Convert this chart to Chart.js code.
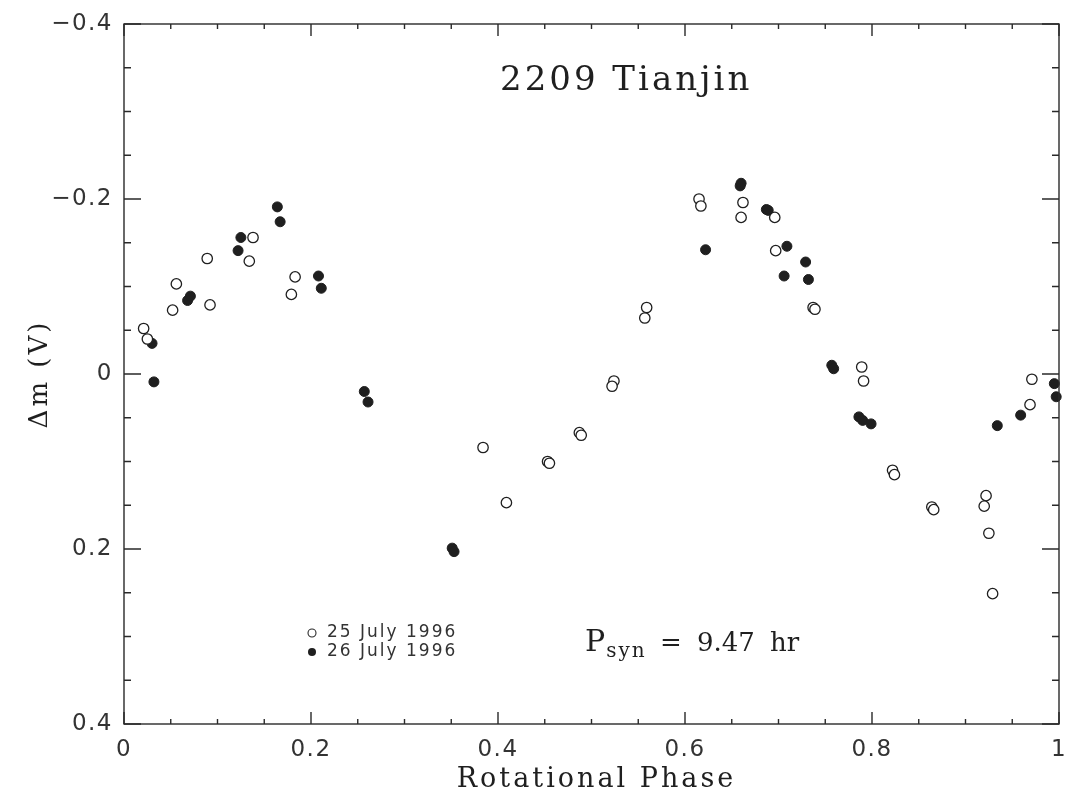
<!DOCTYPE html>
<html>
<head>
<meta charset="utf-8">
<script src="https://cdn.jsdelivr.net/npm/chart.js@4.4.0/dist/chart.umd.min.js"></script>
<style>
    html, body { margin: 0; padding: 0; background: #fff; }
    canvas { display: block; }
</style>
</head>
<body>
<canvas id="lightcurve" width="1066" height="797"></canvas>
<script>
// 25 July 1996 (open circles)
const phase25 = [0.021, 0.025, 0.052, 0.056, 0.089, 0.092, 0.134, 0.138, 0.179, 0.183,
                 0.384, 0.409, 0.453, 0.455, 0.487, 0.489, 0.524, 0.522, 0.559, 0.557,
                 0.615, 0.617, 0.662, 0.660, 0.696, 0.697, 0.737, 0.739, 0.789, 0.791,
                 0.822, 0.824, 0.864, 0.866, 0.922, 0.920, 0.925, 0.929, 0.969, 0.971];
const dm25 = [-0.052, -0.040, -0.073, -0.103, -0.132, -0.079, -0.129, -0.156, -0.091, -0.111,
              0.084, 0.147, 0.100, 0.102, 0.067, 0.070, 0.008, 0.014, -0.076, -0.064,
              -0.200, -0.192, -0.196, -0.179, -0.179, -0.141, -0.076, -0.074, -0.008, 0.008,
              0.110, 0.115, 0.152, 0.155, 0.139, 0.151, 0.182, 0.251, 0.035, 0.006];

// 26 July 1996 (filled circles)
const phase26 = [0.030, 0.032, 0.068, 0.071, 0.122, 0.125, 0.164, 0.167, 0.208, 0.211,
                 0.257, 0.261, 0.351, 0.353, 0.622, 0.659, 0.660, 0.687, 0.689, 0.709,
                 0.706, 0.729, 0.732, 0.757, 0.759, 0.786, 0.790, 0.799, 0.934, 0.959,
                 0.995, 0.997];
const dm26 = [-0.035, 0.009, -0.084, -0.089, -0.141, -0.156, -0.191, -0.174, -0.112, -0.098,
              0.020, 0.032, 0.199, 0.203, -0.142, -0.215, -0.218, -0.188, -0.187, -0.146,
              -0.112, -0.128, -0.108, -0.010, -0.006, 0.049, 0.053, 0.057, 0.059, 0.047,
              0.011, 0.026];

const xTicks = [0, 0.2, 0.4, 0.6, 0.8, 1];
const yTicks = [-0.4, -0.2, 0, 0.2, 0.4];
const legendLabels = ['25 July 1996', '26 July 1996'];
const titleText = '2209 Tianjin';
const xTitle = 'Rotational Phase';
const yTitle = '\u0394m (V)';

const ink = '#1f1f1f';
const labelInk = '#333';

function fmtTick(v) {
    if (Math.abs(v) < 1e-9) return '0';
    if (Math.abs(v - 1) < 1e-9) return '1';
    const s = Math.abs(v).toFixed(1);
    return v < 0 ? '\u2212' + s : s;
}

// the old plotting package spaced its letters a bit wide
const wideText = {
    id: 'wideText',
    beforeDraw(chart) {
        chart.ctx.letterSpacing = '1.5px';
    }
};

// box with inward ticks, axis titles and in-plot annotations
const frameAndNotes = {
    id: 'frameAndNotes',
    afterDatasetsDraw(chart) {
        const { ctx, chartArea: a, scales: { x, y } } = chart;
        ctx.save();
        ctx.strokeStyle = '#2a2a2a';
        ctx.lineWidth = 1.4;
        ctx.strokeRect(a.left, a.top, a.right - a.left, a.bottom - a.top);

        ctx.beginPath();
        for (let i = 0; i <= 20; i++) {
            const px = x.getPixelForValue(i * 0.05);
            const len = i % 4 === 0 ? 12 : 5;
            ctx.moveTo(px, a.bottom); ctx.lineTo(px, a.bottom - len);
            ctx.moveTo(px, a.top); ctx.lineTo(px, a.top + len);
        }
        for (let i = 0; i <= 16; i++) {
            const py = y.getPixelForValue(-0.4 + i * 0.05);
            const len = i % 4 === 0 ? 17 : 7;
            ctx.moveTo(a.left, py); ctx.lineTo(a.left + len, py);
            ctx.moveTo(a.right, py); ctx.lineTo(a.right - len, py);
        }
        ctx.stroke();

        // axis titles
        ctx.fillStyle = ink;
        ctx.letterSpacing = '3px';
        ctx.font = '27px "DejaVu Serif"';
        ctx.textAlign = 'center';
        ctx.textBaseline = 'alphabetic';
        ctx.fillText(xTitle, (a.left + a.right) / 2 + 5, 787);
        ctx.save();
        ctx.translate(47, (a.top + a.bottom) / 2);
        ctx.rotate(-Math.PI / 2);
        ctx.font = '26px "DejaVu Serif"';
        ctx.fillText(yTitle, 0, 0);
        ctx.restore();

        // title inside the frame
        ctx.textAlign = 'left';
        ctx.font = '34px "DejaVu Serif"';
        ctx.fillText(titleText, a.left + 376, a.top + 66);

        // legend, lower left
        const lx = a.left + 188;
        const rows = [a.top + 609, a.top + 628];
        ctx.lineWidth = 1.1;
        ctx.beginPath();
        ctx.arc(lx, rows[0], 4, 0, Math.PI * 2);
        ctx.fillStyle = '#fff';
        ctx.fill();
        ctx.stroke();
        ctx.beginPath();
        ctx.arc(lx, rows[1], 4, 0, Math.PI * 2);
        ctx.fillStyle = ink;
        ctx.fill();
        ctx.fillStyle = labelInk;
        ctx.letterSpacing = '2px';
        ctx.font = '17px "DejaVu Sans"';
        ctx.textBaseline = 'middle';
        ctx.fillText(legendLabels[0], lx + 15, rows[0]);
        ctx.fillText(legendLabels[1], lx + 15, rows[1]);

        // synodic period
        ctx.fillStyle = ink;
        ctx.textBaseline = 'alphabetic';
        const bx = a.left + 461;
        const by = a.top + 627;
        ctx.letterSpacing = '0px';
        ctx.font = '30px "DejaVu Serif"';
        ctx.fillText('P', bx, by);
        const pw = ctx.measureText('P').width;
        ctx.letterSpacing = '2px';
        ctx.font = '20px "DejaVu Serif"';
        ctx.fillText('syn', bx + pw + 1, by + 6);
        ctx.letterSpacing = '0px';
        ctx.font = '26px "DejaVu Serif"';
        ctx.fillText('=', a.left + 536, by);
        ctx.fillText('9.47', a.left + 573, by);
        ctx.fillText('hr', a.left + 646, by);
        ctx.restore();
    }
};

const ctx = document.getElementById('lightcurve').getContext('2d');
new Chart(ctx, {
    type: 'scatter',
    data: {
        datasets: [
            {
                label: legendLabels[0],
                data: phase25.map((p, i) => ({ x: p, y: dm25[i] })),
                pointRadius: 5.2,
                pointBackgroundColor: '#fff',
                pointBorderColor: ink,
                pointBorderWidth: 1.3,
                clip: false
            },
            {
                label: legendLabels[1],
                data: phase26.map((p, i) => ({ x: p, y: dm26[i] })),
                pointRadius: 5,
                pointBackgroundColor: ink,
                pointBorderColor: ink,
                pointBorderWidth: 1,
                clip: false
            }
        ]
    },
    options: {
        responsive: false,
        animation: false,
        layout: { padding: { top: 24, right: 7, left: 0, bottom: 0 } },
        plugins: {
            legend: { display: false },
            tooltip: { enabled: false }
        },
        scales: {
            x: {
                type: 'linear',
                min: 0,
                max: 1,
                afterBuildTicks: s => { s.ticks = xTicks.map(v => ({ value: v })); },
                afterFit: s => {
                    s.height = 73;
                    s.paddingLeft = 0;
                    s.paddingRight = 0;
                },
                grid: { display: false, drawTicks: false },
                border: { display: false },
                ticks: {
                    padding: 12,
                    maxRotation: 0,
                    autoSkip: false,
                    color: labelInk,
                    font: { family: 'DejaVu Sans', size: 23 },
                    callback: v => fmtTick(v)
                },
                title: { display: false, text: xTitle }
            },
            y: {
                type: 'linear',
                reverse: true,
                min: -0.4,
                max: 0.4,
                afterBuildTicks: s => { s.ticks = yTicks.map(v => ({ value: v })); },
                afterFit: s => {
                    s.width = 124;
                    s.paddingTop = 0;
                    s.paddingBottom = 0;
                },
                grid: { display: false, drawTicks: false },
                border: { display: false },
                ticks: {
                    padding: 11,
                    color: labelInk,
                    font: { family: 'DejaVu Sans', size: 23 },
                    callback: v => fmtTick(v)
                },
                title: { display: false, text: yTitle }
            }
        }
    },
    plugins: [wideText, frameAndNotes]
});
</script>
</body>
</html>
